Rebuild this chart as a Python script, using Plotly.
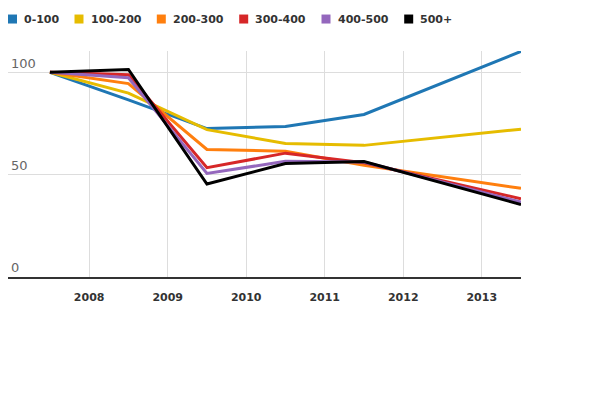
import plotly.graph_objects as go

years = [2007.5, 2008.5, 2009.5, 2010.5, 2011.5, 2013.5]
series_names = ["0-100", "100-200", "200-300", "300-400", "400-500", "500+"]
colors = ["#1f77b4", "#e6bc00", "#ff7f0e", "#d62728", "#9467bd", "#000000"]

v_0_100 = [100, 86.5, 72.5, 73.5, 79.4, 110.2]
v_100_200 = [100, 89.8, 72.0, 65.2, 64.3, 72.2]
v_200_300 = [100, 94.5, 62.3, 61.4, 54.6, 43.3]
v_300_400 = [100, 98.8, 53.4, 60.5, 55.8, 38.2]
v_400_500 = [100, 97.3, 50.6, 56.5, 56.2, 36.6]
v_500_plus = [100, 101.4, 45.4, 55.4, 56.4, 35.4]
values = [v_0_100, v_100_200, v_200_300, v_300_400, v_400_500, v_500_plus]

tick_years = [2008, 2009, 2010, 2011, 2012, 2013]
tick_labels = ["2008", "2009", "2010", "2011", "2012", "2013"]
y_ticks = [0, 50, 100]

# page has an 8px body margin; work in page pixels and convert
O = 8
W, H = 600 - O, 400 - O
L, R, T, B = 8, 521, 51, 277.2  # plot area in page pixels

fig = go.Figure()
for name, col, vals in zip(series_names, colors, values):
    fig.add_trace(go.Scatter(x=years, y=vals, mode="lines", name=name,
                             line=dict(color=col, width=3), showlegend=False,
                             hoverinfo="skip"))

# custom legend: squares + bold labels
legend_left = [8, 74.5, 156.8, 239.2, 321.5, 404.2]
pw, ph = R - L, B - T
def px2paper_x(px):
    return (px - L) / pw
def py2paper_y(py):
    return (B - py) / ph
for name, col, lx in zip(series_names, colors, legend_left):
    fig.add_shape(type="rect", xref="paper", yref="paper",
                  x0=px2paper_x(lx), x1=px2paper_x(lx + 9),
                  y0=py2paper_y(23.5), y1=py2paper_y(14.5),
                  fillcolor=col, line=dict(width=0))
    fig.add_annotation(text=name, xref="paper", yref="paper",
                       x=px2paper_x(lx + 14), y=py2paper_y(19.2),
                       xanchor="left", yanchor="middle", showarrow=False,
                       font=dict(family="DejaVu Sans", size=11, color="#333333", weight="bold"))

fig.update_layout(
    width=W, height=H,
    margin=dict(l=L - O, r=W - (R - O), t=T - O, b=H - (B - O), pad=0),
    plot_bgcolor="white", paper_bgcolor="white",
    showlegend=False,
)
fig.update_xaxes(range=[2006.966, 2013.5], tickvals=tick_years, ticktext=tick_labels,
                 showgrid=True, gridcolor="#dddddd", gridwidth=1,
                 showline=True, linecolor="#333333", linewidth=1.5,
                 zeroline=False, ticks="", ticklabelstandoff=9,
                 automargin=False,
                 tickfont=dict(family="DejaVu Sans", size=11, color="#333333", weight="bold"))
fig.update_yaxes(range=[0, 110.4], tickvals=y_ticks, ticktext=[str(v) for v in y_ticks],
                 showgrid=True, gridcolor="#dddddd", gridwidth=1,
                 zeroline=False, showline=False, ticks="",
                 ticklabelposition="inside top", automargin=False,
                 tickfont=dict(family="DejaVu Sans", size=13, color="#666666"))

fig.write_html("out.html")
